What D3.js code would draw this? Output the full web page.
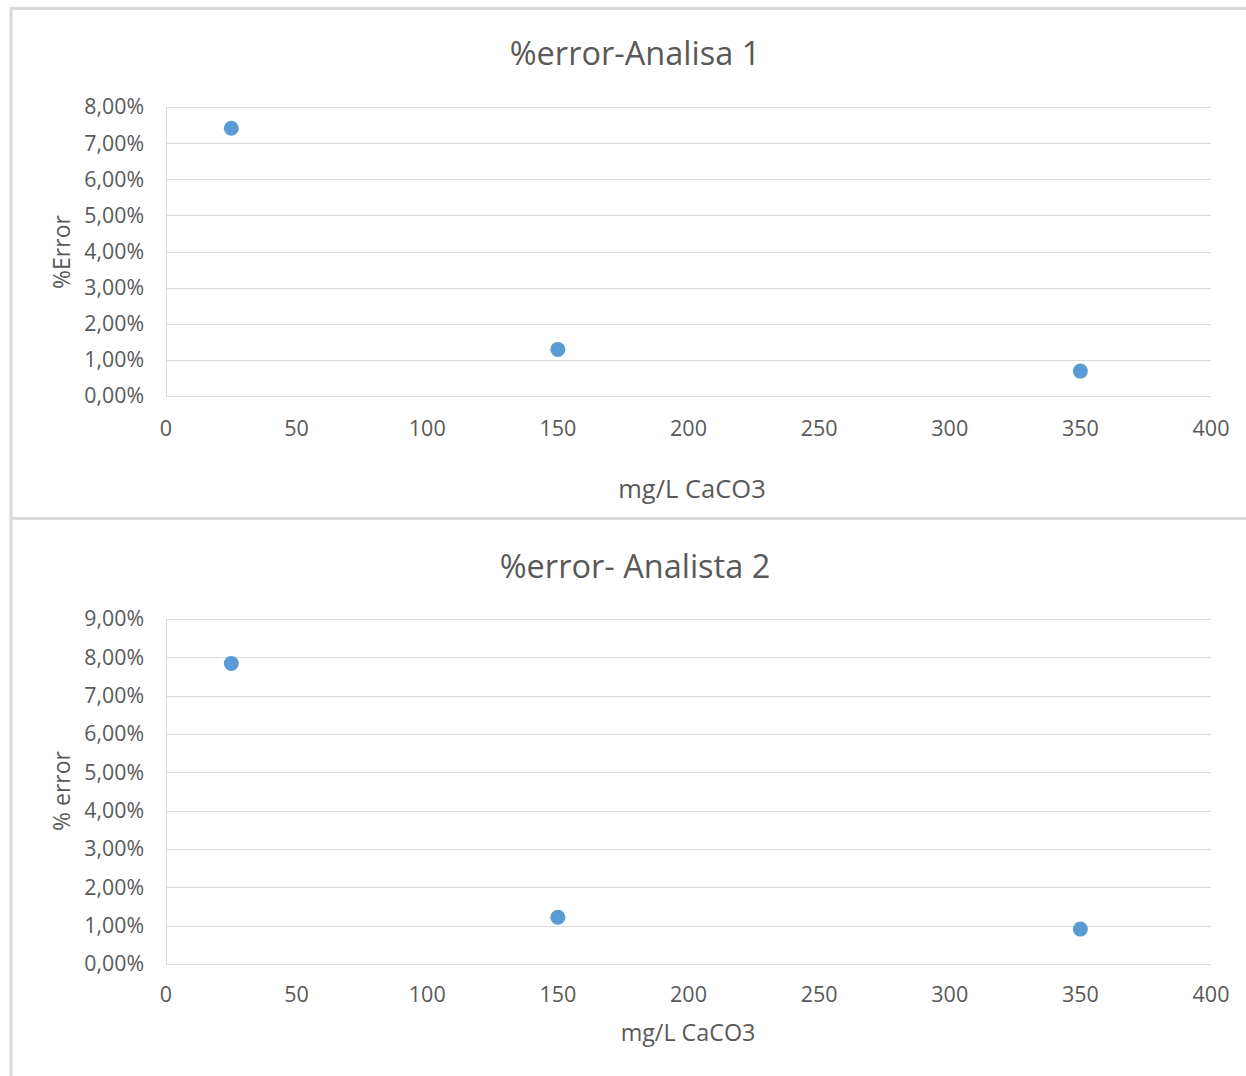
<!DOCTYPE html>
<html><head><meta charset="utf-8">
<script src="https://cdn.jsdelivr.net/npm/d3@7"></script>
<style>body{margin:0;background:#fff}svg{display:block}</style>
</head><body>
<script>
const concentrations = [25, 150, 350];
const errorAnalista1 = [0.0741, 0.0129, 0.0069];
const errorAnalista2 = [0.0784, 0.0122, 0.0091];
const xTicks = [0, 50, 100, 150, 200, 250, 300, 350, 400];
const yTicks1 = [0, 0.01, 0.02, 0.03, 0.04, 0.05, 0.06, 0.07, 0.08];
const yTicks2 = [0, 0.01, 0.02, 0.03, 0.04, 0.05, 0.06, 0.07, 0.08, 0.09];
const titles = ["%error-Analisa 1", "%error- Analista 2"];
const yTitles = ["%Error", "% error"];
const xTitle = "mg/L CaCO3";

const W = 1246, H = 1076;
const svg = d3.select("body").append("svg").attr("width", W).attr("height", H)
  .style("font-family", "'Open Sans', sans-serif");
const txt = "#595959", grid = "#d9d9d9", dot = "#5b9bd5";
const fmt = v => (v * 100).toFixed(2).replace(".", ",") + "%";

// frames
svg.append("path").attr("d", "M1246,8.5 H11 V518.5 H1246").attr("fill", "none").attr("stroke", grid).attr("stroke-width", 3);
svg.append("path").attr("d", "M11,518 V1076").attr("fill", "none").attr("stroke", grid).attr("stroke-width", 3);

const panels = [
  {vals: errorAnalista1, ticks: yTicks1, ymax: 0.08, top: 107, bottom: 396, title: titles[0], titleY: 65, yTitle: yTitles[0], yTitleY: 252, xTitleY: 498, xTitleX: 692, xTitleSize: 25.5, xTickY: 436},
  {vals: errorAnalista2, ticks: yTicks2, ymax: 0.09, top: 619, bottom: 964, title: titles[1], titleY: 578, yTitle: yTitles[1], yTitleY: 791, xTitleY: 1041, xTitleX: 688, xTitleSize: 23.3, xTickY: 1002}
];

const x = d3.scaleLinear().domain([0, 400]).range([166, 1211]);

panels.forEach(p => {
  const y = d3.scaleLinear().domain([0, p.ymax]).range([p.bottom, p.top]);
  const g = svg.append("g");
  g.selectAll("line.grid").data(p.ticks).join("line")
    .attr("x1", 166).attr("x2", 1211)
    .attr("y1", d => Math.round(y(d)) + 0.5).attr("y2", d => Math.round(y(d)) + 0.5)
    .attr("stroke", grid).attr("stroke-width", 1);
  g.append("line").attr("x1", 166.5).attr("x2", 166.5).attr("y1", p.top).attr("y2", p.bottom)
    .attr("stroke", grid);
  g.selectAll("text.yl").data(p.ticks).join("text")
    .attr("x", 144).attr("y", d => y(d)).attr("dy", "0.35em")
    .attr("text-anchor", "end").attr("fill", txt).attr("font-size", 21.3)
    .text(fmt);
  g.selectAll("text.xl").data(xTicks).join("text")
    .attr("x", d => x(d)).attr("y", p.xTickY)
    .attr("text-anchor", "middle").attr("fill", txt).attr("font-size", 21.5)
    .text(d => d);
  g.append("text").attr("x", 635).attr("y", p.titleY).attr("text-anchor", "middle")
    .attr("fill", txt).attr("font-size", 32.5).text(p.title);
  g.append("text").attr("x", p.xTitleX).attr("y", p.xTitleY).attr("text-anchor", "middle")
    .attr("fill", txt).attr("font-size", p.xTitleSize).text(xTitle);
  g.append("text").attr("transform", `translate(70,${p.yTitleY}) rotate(-90)`)
    .attr("text-anchor", "middle").attr("fill", txt).attr("font-size", 23).text(p.yTitle);
  g.selectAll("circle").data(concentrations).join("circle")
    .attr("cx", d => x(d)).attr("cy", (d, i) => y(p.vals[i]))
    .attr("r", 7.5).attr("fill", dot);
});
</script>
</body></html>
